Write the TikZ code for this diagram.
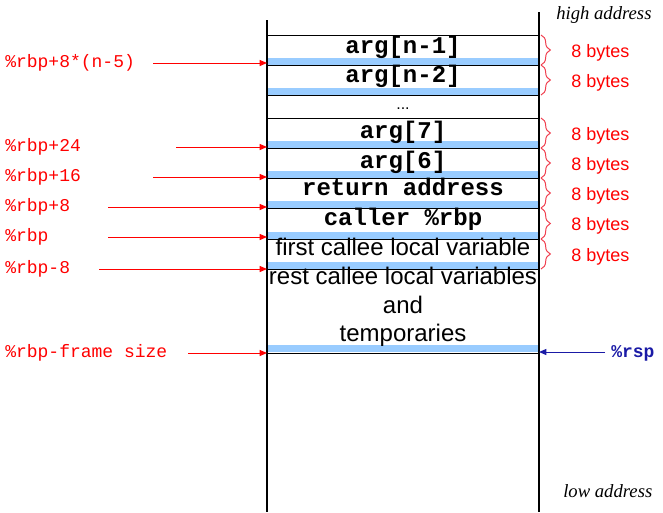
\documentclass[tikz,border=0pt]{standalone}
\usepackage{fontspec}
\setmainfont{Liberation Sans}
\setmonofont{Liberation Mono}
\newfontfamily\addrfont{Liberation Serif}
\usepackage{xcolor}
\definecolor{stackblue}{HTML}{99CCFF}
\definecolor{offsetred}{HTML}{FF0000}
\definecolor{bracered}{HTML}{F04050}
\definecolor{rspblue}{HTML}{1A1AA6}
\usetikzlibrary{%
      arrows.meta,%
  decorations.pathreplacing%
  }
\tikzset{
  celltt/.style={anchor=base, inner sep=0pt, font=\ttfamily\bfseries\fontsize{18}{20}\selectfont},
  cellsf/.style={anchor=base, inner sep=0pt, font=\fontsize{18}{20}\selectfont},
  offlabel/.style={anchor=base west, inner sep=0pt, text=offsetred, font=\ttfamily\fontsize{13.5}{15}\selectfont},
  offarrow/.style={draw=offsetred, line width=0.75pt, -{Triangle[length=5.5pt,width=4.5pt]}},
  bytebrace/.style={draw=bracered, line width=0.75pt, decorate, decoration={brace, amplitude=7pt}},
  bytelabel/.style={anchor=base west, inner sep=0pt, text=offsetred, font=\fontsize{13.5}{15}\selectfont},
  addrlabel/.style={anchor=base west, inner sep=0pt, font=\addrfont\itshape\fontsize{14}{16}\selectfont}
}
\begin{document}
\begin{tikzpicture}[x=0.75pt,y=-0.75pt]
    \useasboundingbox (0,0) rectangle (663,512);
    % slot bottoms
    \foreach \y in {58,88,141,171,201,232,262,345}
      \fill[color=stackblue] (268,\y) rectangle (538,\y+7);
    % slot borders
    \foreach \y in {35,65,95,118,148,178,208,239,269,353}
      \draw[line width=0.75pt] (267,\y) -- (539,\y);
    % stack walls
    \draw[line width=1.5pt] (267,20) -- (267,512);
    \draw[line width=1.5pt] (539,12) -- (539,512);
    % slot contents
    \node[celltt] (argn1) at (403,53) {arg[n-1]};
    \node[celltt] (argn2) at (403,82) {arg[n-2]};
    \node[cellsf, font=\fontsize{12}{14}\selectfont] (dots) at (403,109) {...};
    \node[celltt] (arg7) at (403,138) {arg[7]};
    \node[celltt] (arg6) at (403,168) {arg[6]};
    \node[celltt] (retaddr) at (403,195) {return address};
    \node[celltt] (callerrbp) at (403,225) {caller \%rbp};
    \node[cellsf] (firstlocal) at (403,255) {first callee local variable};
    \node[cellsf] (restlocal) at (403,284) {rest callee local variables};
    \node[cellsf] (restand) at (403,313) {and};
    \node[cellsf] (resttemp) at (403,341) {temporaries};
    % offsets from %rbp
    \node[offlabel] (offn5) at (5,67) {\%rbp+8*(n-5)};
    \node[offlabel] (offp24) at (5,151) {\%rbp+24};
    \node[offlabel] (offp16) at (5,181) {\%rbp+16};
    \node[offlabel] (offp8) at (5,211) {\%rbp+8};
    \node[offlabel] (offz) at (5,241) {\%rbp};
    \node[offlabel] (offm8) at (5,273) {\%rbp-8};
    \node[offlabel] (offfs) at (5,357) {\%rbp-frame size};
    \foreach \name/\y/\x in {n5/63/153, p24/147/176, p16/177/153, p8/207/108, z/237/108, m8/269/99, fs/353/188} {
      \coordinate (tail\name) at (\x,\y);
      \coordinate (head\name) at (267,\y);
      \draw[offarrow] (tail\name) -- (head\name);
    }
    % stack pointer
    \node[offlabel, text=rspblue, font=\ttfamily\bfseries\fontsize{13.5}{15}\selectfont] (rsp) at (611,357) {\%rsp};
    \coordinate (rsptail) at (605,352);
    \coordinate (rsphead) at (539,352);
    \draw[offarrow, draw=rspblue] (rsptail) -- (rsphead);
    % slot sizes
    \foreach \top/\bot in {35/65, 65/95, 118/148, 148/178, 178/208, 208/239, 239/269} {
      \draw[bytebrace] (541,\top) -- (541,\bot);
      \node[bytelabel] (bytes\top) at (571,{(\top+\bot)/2+7}) {8 bytes};
    }
    \node[addrlabel] (high) at (556,19) {high address};
    \node[addrlabel] (low) at (563,497) {low address};
    \end{tikzpicture}
\end{document}
